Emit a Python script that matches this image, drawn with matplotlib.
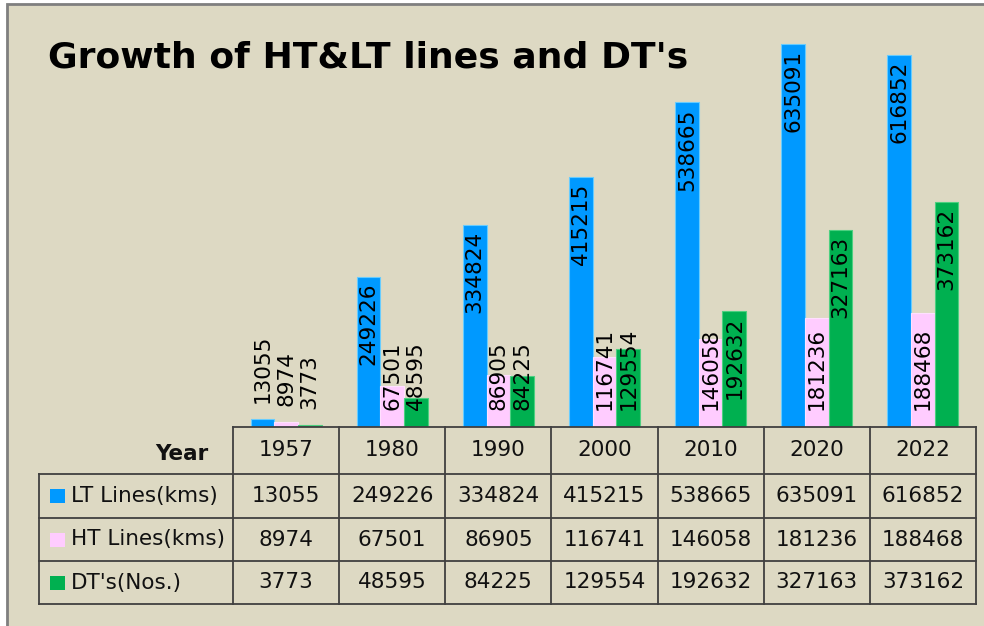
import numpy as np
import matplotlib
matplotlib.use('Agg')
import matplotlib.pyplot as plt
from matplotlib.patches import Rectangle

#data
years = ['1957', '1980', '1990', '2000', '2010', '2020', '2022']
lt_lines = [13055, 249226, 334824, 415215, 538665, 635091, 616852]
ht_lines = [8974, 67501, 86905, 116741, 146058, 181236, 188468]
dts = [3773, 48595, 84225, 129554, 192632, 327163, 373162]
row_names = ['LT Lines(kms)', 'HT Lines(kms)', "DT's(Nos.)"]

colors = ['#0099FF', '#FFCCFF', '#00B050']
edges = ['#66CCFF', '#FFE0FF', '#4CD080']
bg = '#DDD9C3'
W, H = 984, 626

fig = plt.figure(figsize=(W/100, H/100), dpi=100)
fig.patch.set_facecolor('white')
fig.patches.append(Rectangle((7/W, -0.01), 1.0, 1 - 4/H + 0.01, transform=fig.transFigure,
                             facecolor=bg, edgecolor='#7F7F7F', linewidth=2, zorder=-10))

# axes box lined up with the table columns (pixels)
ax_l, ax_r, ax_b, ax_t = 233, 976, 427, 4.9
ax = fig.add_axes([ax_l/W, 1 - ax_b/H, (ax_r-ax_l)/W, (ax_b-ax_t)/H])
ax.set_zorder(1)
ax.set_facecolor('none')
ymax = 700000
ax.set_ylim(0, ymax)
ax.set_xlim(-0.5, len(years) - 0.5)
for s in ax.spines.values():
    s.set_visible(False)
ax.set_xticks([])
ax.set_yticks([])

x = np.arange(len(years))
bw = 0.2234
series = [lt_lines, ht_lines, dts]
ppu = (ax_b - ax_t) / ymax  # pixels per unit

for k, vals in enumerate(series):
    xs = x + (k - 1) * bw
    ax.bar(xs, vals, bw, color=colors[k], edgecolor=edges[k], linewidth=0.8, zorder=2)
    for xi, v in zip(xs, vals):
        h = v * ppu
        L = 13 * len(str(v))
        if h < 12:
            yy, off, va = v, 16, 'bottom'
        elif k == 1 or h < L + 10:
            yy, off, va = 0, 17, 'bottom'
        else:
            yy, off, va = v, -6, 'top'
        ax.annotate(str(v), (xi, yy), xytext=(0, off), textcoords='offset pixels',
                    rotation=90, ha='center', va=va, fontsize=15.5, color='black', zorder=3)

# table under the chart
rows_px = [427, 474, 518, 561, 604]
def fy(p):
    return (ax_b - p) / (ax_b - ax_t)
def fx(p):
    return (p - ax_l) / (ax_r - ax_l)

tx = ax.get_xaxis_transform()
lc = '#404040'
lw = 1.3
# vertical lines at column edges
for b in np.arange(len(years) + 1) - 0.5:
    ax.plot([b, b], [fy(rows_px[0]), fy(rows_px[-1])], transform=tx, color=lc, lw=lw, clip_on=False)
ax.plot([fx(39), fx(39)], [fy(rows_px[1]), fy(rows_px[-1])], transform=ax.transAxes,
        color=lc, lw=lw, clip_on=False)
ax.plot([0, 1], [0, 0], transform=ax.transAxes, color=lc, lw=lw, clip_on=False)
for r in rows_px[1:]:
    ax.plot([fx(39), 1], [fy(r), fy(r)], transform=ax.transAxes, color=lc, lw=lw, clip_on=False)

ymid = [(rows_px[i] + rows_px[i+1]) / 2 for i in range(4)]
for i, yr in enumerate(years):
    ax.text(x[i], fy(ymid[0]), yr, transform=tx, ha='center', va='center', fontsize=15.5, color='#111111')
    for k, vals in enumerate(series):
        ax.text(x[i], fy(ymid[k+1]), str(vals[i]), transform=tx, ha='center', va='center',
                fontsize=15.5, color='#111111')

ax.text(fx(208), fy(ymid[0] + 3), 'Year', transform=ax.transAxes, ha='right', va='center',
        fontsize=15.5, fontweight='bold', color='#111111')
for k, name in enumerate(row_names):
    yc = ymid[k+1]
    ax.add_patch(Rectangle((fx(50), fy(yc + 7)), fx(65) - fx(50), fy(yc - 7) - fy(yc + 7),
                           transform=ax.transAxes, facecolor=colors[k], edgecolor='none', clip_on=False))
    ax.text(fx(71), fy(yc), name, transform=ax.transAxes, ha='left', va='center',
            fontsize=15.5, color='#111111')

fig.text(48/W, 1 - 68/H, "Growth of HT&LT lines and DT's", fontsize=26, fontweight='bold',
         ha='left', va='baseline', color='black')

fig.savefig('out.png', dpi=100, facecolor=fig.get_facecolor())
